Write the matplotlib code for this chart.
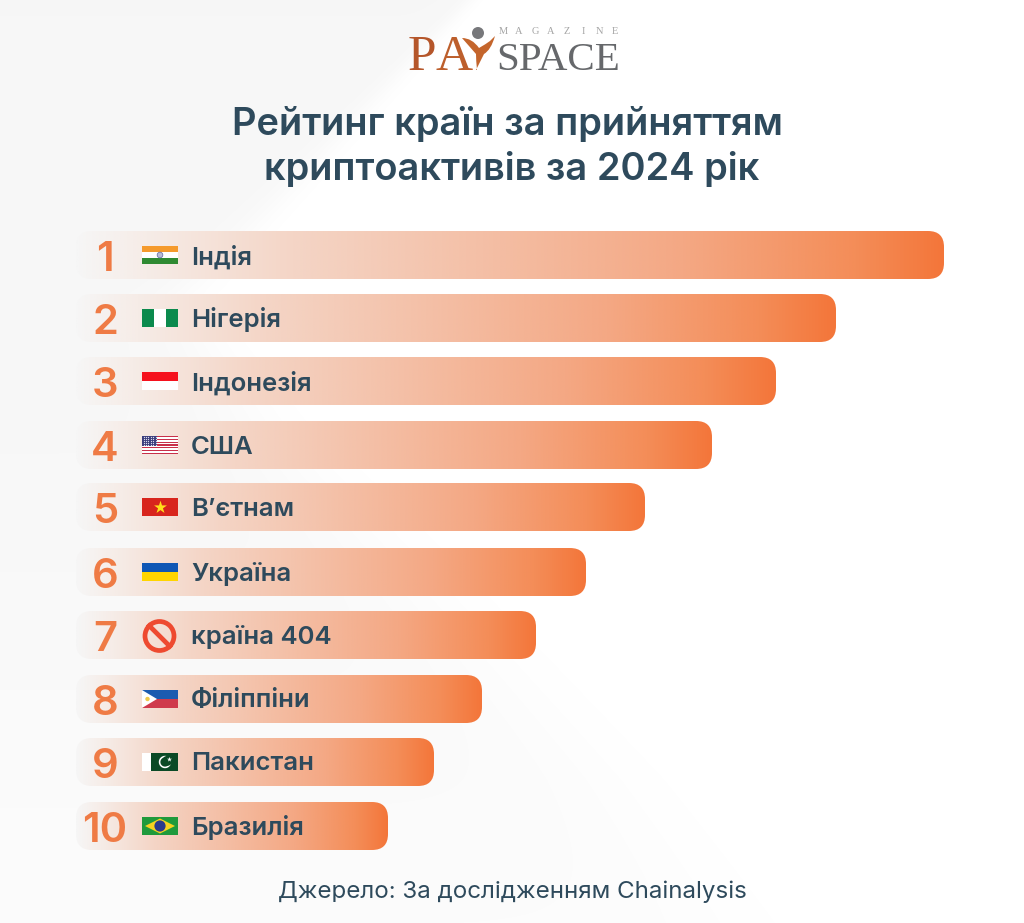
"""Country ranking by crypto adoption, 2024 (PaySpace Magazine infographic)."""

import numpy as np
import matplotlib.pyplot as plt
from matplotlib.colors import LinearSegmentedColormap
from matplotlib.patches import Circle, FancyBboxPatch, PathPatch, Polygon, Rectangle, Wedge
from matplotlib.path import Path

plt.rcParams["font.family"] = ["Inter", "DejaVu Sans"]

ranks = ["1", "2", "3", "4", "5", "6", "7", "8", "9", "10"]
countries = [
    "Індія", "Нігерія", "Індонезія", "США", "В’єтнам",
    "Україна", "країна 404", "Філіппіни", "Пакистан", "Бразилія",
]
# bar lengths, in pixels
bar_lengths = [868, 760, 700, 636, 569, 510, 460, 406, 358, 312]
title_lines = ["Рейтинг країн за прийняттям", "криптоактивів за 2024 рік"]
source = "Джерело: За дослідженням Chainalysis"

# layout
ROW_TOPS = [231, 294, 357, 421, 483, 548, 611, 675, 738, 802]
BAR_LEFT = 76
BAR_HEIGHT = 48
FLAG_LEFT, FLAG_W, FLAG_H = 142, 36, 18
NAVY = "#2e4a5c"
ORANGE = "#ef7b45"

bar_cmap = LinearSegmentedColormap.from_list(
    "bar",
    [
        (0.0, "#f6f6f6"),
        (0.08, "#f6ece7"),
        (0.25, "#f4d5c6"),
        (0.7, "#f4a884"),
        (0.9, "#f48d58"),
        (1.0, "#f3763a"),
    ],
)

fig = plt.figure(figsize=(10.24, 9.23), dpi=100)
ax = fig.add_axes([0, 0, 1, 1])
ax.set_xlim(0, 1024)
ax.set_ylim(923, 0)
ax.axis("off")

# pale grey sweep on the left, soft edge that gets softer towards the bottom
yy, xx = np.mgrid[0:923, 0:1024]
edge_y = [0, 240, 300, 420, 690, 780, 923]
edge_x = [470, 240, 175, 250, 512, 600, 720]
edge = np.interp(yy, edge_y, edge_x)
softness = np.interp(yy, [0, 250, 500, 923], [6, 14, 35, 50])
mask = 1 / (1 + np.exp((xx - edge) / softness))
depth = np.interp(yy, [0, 450, 923], [9, 8, 4])
ax.imshow(255 - depth * mask, cmap="gray", vmin=0, vmax=255, extent=(0, 1024, 923, 0),
          aspect="auto", zorder=0)


def flag_box(top):
    return FLAG_LEFT, top + (BAR_HEIGHT - FLAG_H) / 2


def stripes_h(top, colors):
    x, y = flag_box(top)
    h = FLAG_H / len(colors)
    for i, c in enumerate(colors):
        ax.add_patch(Rectangle((x, y + i * h), FLAG_W, h, fc=c, ec="none", zorder=4))


def stripes_v(top, colors):
    x, y = flag_box(top)
    w = FLAG_W / len(colors)
    for i, c in enumerate(colors):
        ax.add_patch(Rectangle((x + i * w, y), w, FLAG_H, fc=c, ec="none", zorder=4))


def flag_india(top):
    stripes_h(top, ["#f59a2c", "#ffffff", "#2f8a32"])
    x, y = flag_box(top)
    ax.add_patch(Circle((x + FLAG_W / 2, y + FLAG_H / 2), 2.8, fc="#b9bcd6", ec="#6f75a8", lw=0.6, zorder=5))


def flag_usa(top):
    x, y = flag_box(top)
    stripes_h(top, ["#c8304a", "#ffffff"] * 6 + ["#c8304a"])
    ax.add_patch(Rectangle((x, y), 15, 9.7, fc="#3c3f7e", ec="none", zorder=5))
    xs, ys = np.meshgrid(np.arange(x + 1.5, x + 15, 2.4), np.arange(y + 1.3, y + 9.5, 1.9))
    ax.scatter(xs.ravel(), ys.ravel(), s=0.8, c="#dfe0ee", linewidths=0, zorder=6)


def flag_vietnam(top):
    stripes_h(top, ["#d8251d"])
    x, y = flag_box(top)
    ax.scatter([x + FLAG_W / 2], [y + FLAG_H / 2], marker="*", s=95, c="#ffe01a", linewidths=0, zorder=5)


def flag_ban(top):
    cx, cy = FLAG_LEFT + 17.5, top + BAR_HEIGHT / 2 + 1
    ax.add_patch(Circle((cx, cy), 14.5, fc="none", ec="#ee4a30", lw=3.4, zorder=5))
    d = 14.5 * np.sqrt(0.5)
    ax.plot([cx - d, cx + d], [cy - d, cy + d], color="#ee4a30", lw=3.4, zorder=5)


def flag_philippines(top):
    stripes_h(top, ["#1c5bb0", "#cf3a4c"])
    x, y = flag_box(top)
    ax.add_patch(Polygon([(x, y), (x + 15, y + FLAG_H / 2), (x, y + FLAG_H)], fc="#ffffff", ec="none", zorder=5))
    ax.add_patch(Circle((x + 5.5, y + FLAG_H / 2), 2.2, fc="#f0c94a", ec="none", zorder=6))


def flag_pakistan(top):
    x, y = flag_box(top)
    ax.add_patch(Rectangle((x, y), 9, FLAG_H, fc="#ffffff", ec="none", zorder=4))
    ax.add_patch(Rectangle((x + 9, y), FLAG_W - 9, FLAG_H, fc="#0b4a26", ec="none", zorder=4))
    cx, cy = x + 23, y + FLAG_H / 2
    ax.add_patch(Wedge((cx, cy), 6.2, 0, 360, width=1.6, fc="#ffffff", ec="none", zorder=5))
    ax.add_patch(Circle((cx + 2.4, cy - 1.2), 5, fc="#0b4a26", ec="none", zorder=6))
    ax.scatter([cx + 3.6], [cy - 3], marker="*", s=14, c="#ffffff", linewidths=0, zorder=7)


def flag_brazil(top):
    stripes_h(top, ["#1f9a3c"])
    x, y = flag_box(top)
    cx, cy = x + FLAG_W / 2, y + FLAG_H / 2
    ax.add_patch(Polygon([(x + 3, cy), (cx, y + 1.5), (x + FLAG_W - 3, cy), (cx, y + FLAG_H - 1.5)], fc="#f6d21f", ec="none", zorder=5))
    ax.add_patch(Circle((cx, cy), 5.6, fc="#2b3a8c", ec="none", zorder=6))


flag_painters = [
    flag_india,
    lambda top: stripes_v(top, ["#0b8a4d", "#ffffff", "#0b8a4d"]),
    lambda top: stripes_h(top, ["#f5111d", "#ffffff"]),
    flag_usa,
    flag_vietnam,
    lambda top: stripes_h(top, ["#0f57b5", "#ffd500"]),
    flag_ban,
    flag_philippines,
    flag_pakistan,
    flag_brazil,
]

gradient = np.linspace(0, 1, 512).reshape(1, -1)
for rank, name, length, top, paint in zip(ranks, countries, bar_lengths, ROW_TOPS, flag_painters):
    image = ax.imshow(
        gradient,
        cmap=bar_cmap,
        extent=(BAR_LEFT, BAR_LEFT + length, top + BAR_HEIGHT, top),
        aspect="auto",
        zorder=2,
    )
    clip = FancyBboxPatch(
        (BAR_LEFT + 16, top + 16),
        length - 32,
        BAR_HEIGHT - 32,
        boxstyle="round,pad=16,rounding_size=16",
        fc="none",
        ec="none",
        transform=ax.transData,
    )
    ax.add_patch(clip)
    image.set_clip_path(clip)

    ax.text(105, top + 29, rank, color=ORANGE, fontsize=30, fontweight="semibold",
            ha="center", va="center", zorder=5)
    ax.text(191, top + 26, name, color=NAVY, fontsize=18.5, fontweight="semibold",
            ha="left", va="center", zorder=5)
    paint(top)

# imshow resets the limits
ax.set_xlim(0, 1024)
ax.set_ylim(923, 0)

ax.text(507, 125, title_lines[0], color=NAVY, fontsize=27.4, fontweight="semibold", ha="center", va="center")
ax.text(512, 170, title_lines[1], color=NAVY, fontsize=27.4, fontweight="semibold", ha="center", va="center")
ax.text(512, 892, source, color=NAVY, fontsize=17.4, ha="center", va="center")

# logo
serif = ["Liberation Serif", "DejaVu Serif"]
ax.text(408, 70, "P", color="#b5562a", fontsize=37, family=serif, ha="left", va="baseline")
ax.text(436, 70, "A", color="#bd5f2c", fontsize=37, family=serif, ha="left", va="baseline")
ax.text(496, 70, "SPACE", color="#66686b", fontsize=29.5, family=serif, ha="left", va="baseline")
for letter, x in zip("MAGAZINE", np.linspace(503, 615, 8)):
    ax.text(x, 32, letter, color="#a5a5a5", fontsize=7.5, family=serif, ha="center", va="center")
arms = Path(
    [(462, 38), (472, 38), (479, 48), (486, 44), (490, 41), (495, 36),
     (491, 50), (484, 54), (476, 70), (477, 70), (476, 60), (476, 54), (462, 38)],
    [Path.MOVETO, Path.CURVE3, Path.CURVE3, Path.CURVE3, Path.CURVE3, Path.LINETO,
     Path.CURVE3, Path.CURVE3, Path.LINETO, Path.LINETO, Path.CURVE3, Path.CURVE3, Path.CLOSEPOLY],
)
ax.add_patch(PathPatch(arms, fc="#c4652c", ec="none", zorder=3))
ax.add_patch(Circle((478, 33), 6, fc="#77787b", ec="none", zorder=3))

fig.savefig("out.png", dpi=100)
